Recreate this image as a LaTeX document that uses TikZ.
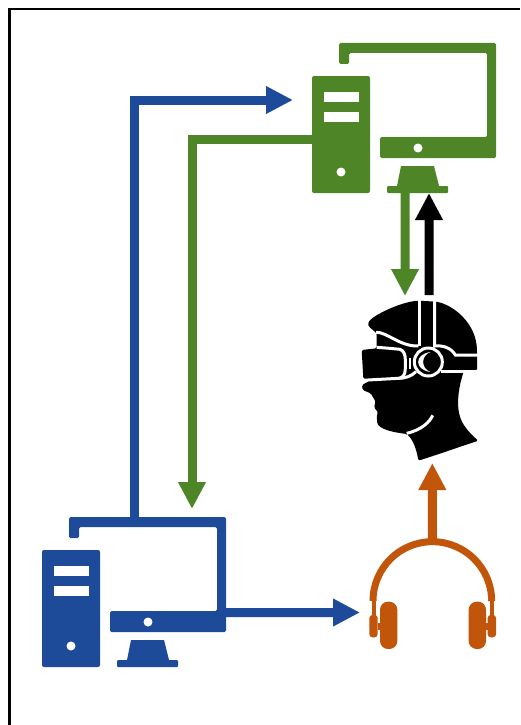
\documentclass[tikz,border=0pt]{standalone}
\usepackage{xcolor}
\usetikzlibrary{arrows.meta}
\definecolor{pcBlue}{HTML}{1E4B99}
\definecolor{pcGreen}{HTML}{4E8526}
\definecolor{phOrange}{HTML}{C1560B}
\tikzset{
  fatarrow/.style={line width=9pt,-{Triangle[length=27pt,width=26pt]}},
  pcicon/.pic={
    \fill[rounded corners=2pt](0,0)rectangle(58,117);
    \fill[white](12,16)rectangle(47,26);
    \fill[white](12,36)rectangle(47,46);
    \fill[white](29,96)circle(4.5pt);
    \fill[rounded corners=1.5pt](27,-12)--(27,-33)--(184,-33)--(184,82)--(68,82)--(68,61)--(175,61)--(175,-23)--(37,-23)--(37,-12)--cycle;
    \fill[white](106,72)circle(4.5pt);
    \fill(89,90)--(122,90)--(127,110)--(85,110)--cycle;
    \fill[rounded corners=1pt](75,110)rectangle(136,117);
    \coordinate(-top)at(92,-33);
    \coordinate(-back)at(0,63);
    \coordinate(-side)at(180,62.5);
    \coordinate(-inlet)at(-19,24);
    \coordinate(-drop)at(150,-41);
    \coordinate(-footl)at(93,117);
    \coordinate(-footr)at(117,117);
  },
  vrhead/.pic={
    \begin{scope}[x=0.33333pt,y=-0.33333pt]
    \fill[rounded corners=1.5pt](57,110)..controls(50,95)and(70,80)..(100,65)..controls(130,50)and(170,35)..(205,32)--(258,35)..controls(310,45)and(380,100)..(381,185)--(381,242)--(340,246)--(336,262)..controls(325,300)and(320,345)..(330,380)..controls(340,410)and(365,435)..(385,452)..controls(330,470)and(260,495)..(205,512)..controls(200,480)and(190,450)..(170,432)..controls(140,428)and(100,422)..(82,402)--(80,375)--(85,368)--(72,352)--(77,335)--(62,310)--(38,300)--(36,285)--(60,272)--(40,266)--(35,180)--(80,175)--(80,130)--cycle;
    \begin{scope}[white,line width=3pt]
    \draw(78,127)..controls(110,125)and(150,170)..(205,168);
    \draw(80,172)..controls(110,174)and(130,176)..(150,178)..controls(162,182)and(166,195)..(166,210)--(166,235)..controls(166,255)and(158,264)..(145,265)--(35,271);
    \draw(148,265)..controls(165,265)and(185,258)..(198,245);
    \draw(209,28)--(209,168);
    \draw(254,28)--(254,168)..controls(280,165)and(305,175)..(316,195)--(384,195);
    \draw(272,245)--(384,245);
    \draw[line width=1.6pt](180,205)--(180,238);
    \draw(235,216)circle(42);
    \draw(170,430)..controls(215,420)and(240,395)..(248,376);
    \end{scope}
    \fill[white](242,186)..controls(192,192)and(192,240)..(242,246)..controls(212,236)and(212,196)..cycle;
    \coordinate(-greenin)at(165,18);
    \coordinate(-blackout)at(237,15);
    \coordinate(-orangein)at(247,519);
    \end{scope}
  },
  phones/.pic={
    \begin{scope}[x=0.33333pt,y=-0.33333pt]
    \draw[line width=7pt](54,213)arc[start angle=180,end angle=360,radius=178];
    \draw[line width=4pt](56,210)--(56,260);
    \draw[line width=4pt](410,210)--(410,260);
    \fill[rounded corners=8pt](75,215)rectangle(127,357);
    \fill[rounded corners=8pt](341,215)rectangle(393,357);
    \fill[rounded corners=3pt](43,255)rectangle(68,322);
    \fill[rounded corners=3pt](398,255)rectangle(423,322);
    \fill(68,280)rectangle(75,300);
    \fill(393,280)rectangle(398,300);
    \coordinate(-band)at(232,30);
    \coordinate(-inlet)at(15,247.5);
    \end{scope}
  }
}
\begin{document}
\begin{tikzpicture}[x=1pt,y=-1pt]
\useasboundingbox(0,0)rectangle(520,725);
\draw[line width=2.6pt](9.2,725)--(9.2,9.2)--(520,9.2);
\pic[pcGreen,fill=pcGreen](greenpc)at(312,76){pcicon};
\pic[pcBlue,fill=pcBlue](bluepc)at(42,550){pcicon};
\pic(head)at(350,290){vrhead};
\pic[phOrange](phone)at(355,530){phones};
\draw[fatarrow,pcBlue](bluepc-top)|-(greenpc-inlet);
\draw[fatarrow,pcGreen](greenpc-back)-|(bluepc-drop);
\draw[fatarrow,pcBlue](bluepc-side)--(phone-inlet);
\draw[fatarrow,pcGreen](greenpc-footl)--(head-greenin);
\draw[fatarrow,black](head-blackout)--(greenpc-footr);
\draw[fatarrow,phOrange](phone-band)--(head-orangein);
\end{tikzpicture}
\end{document}
